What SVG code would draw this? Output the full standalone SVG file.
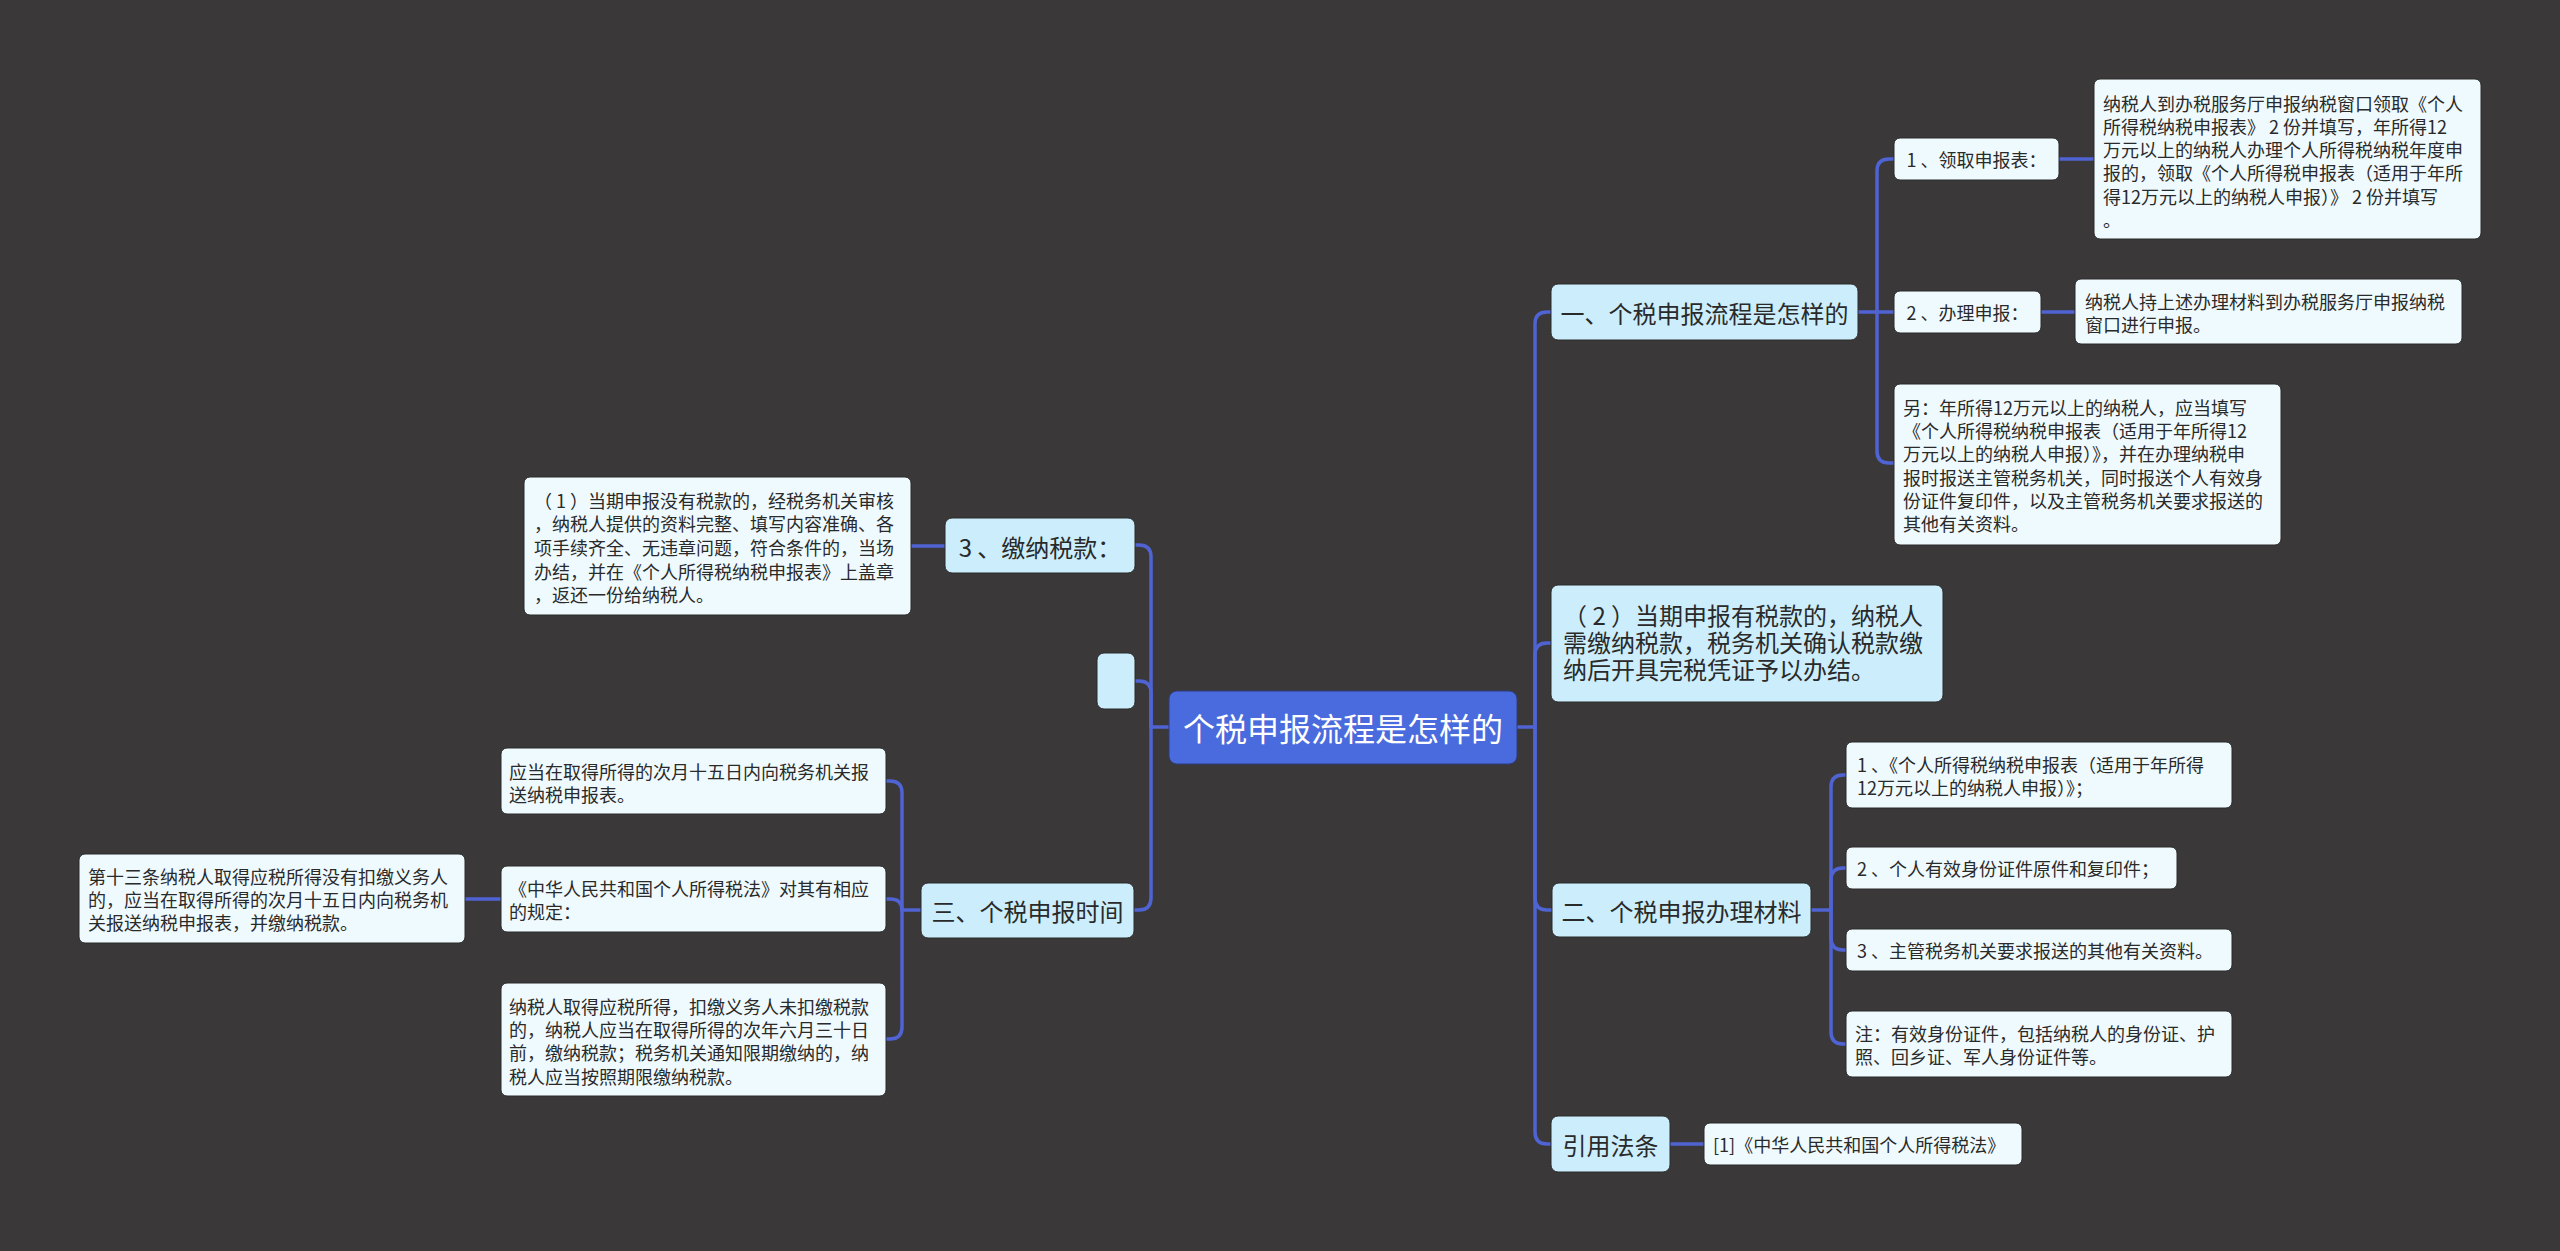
<svg xmlns="http://www.w3.org/2000/svg" width="2560" height="1251" viewBox="0 0 2560 1251">
<style>
text{font-family:"Noto Sans CJK SC","Noto Sans",sans-serif;fill:#2a2a2a;}
.c{fill:none;stroke:#4F63D2;stroke-width:3.5;stroke-linecap:round;}
.root{fill:#4A6BDD;stroke:#2f3d80;stroke-width:1;}
.l1{fill:#CCEEFC;stroke:#2a2a2a;stroke-width:1;}
.lf{fill:#EFFAFE;stroke:#2a2a2a;stroke-width:1;}
.t1{font-size:24px;}
.t2{font-size:18px;}
.mid{text-anchor:middle;}
</style>
<rect width="2560" height="1251" fill="#3A3839"/>
<g id="connectors">
<path class="c" d="M1517,727 H1535"/>
<path class="c" d="M1535,727 V324 Q1535,312 1547,312 H1551"/>
<path class="c" d="M1535,727 V655 Q1535,643 1547,643 H1551"/>
<path class="c" d="M1535,727 V898 Q1535,910 1547,910 H1552"/>
<path class="c" d="M1535,727 V1132 Q1535,1144 1547,1144 H1551"/>
<path class="c" d="M1169,727 H1151"/>
<path class="c" d="M1151,727 V557 Q1151,545 1139,545 H1135"/>
<path class="c" d="M1151,727 V693 Q1151,681 1139,681 H1135"/>
<path class="c" d="M1151,727 V898 Q1151,910 1139,910 H1134"/>
<path class="c" d="M1858,312 H1877"/>
<path class="c" d="M1877,312 V171 Q1877,159 1889,159 H1894"/>
<path class="c" d="M1877,312 H1894"/>
<path class="c" d="M1877,312 V451 Q1877,463 1889,463 H1894"/>
<path class="c" d="M2059,159 H2094"/>
<path class="c" d="M2041,312 H2075"/>
<path class="c" d="M1811,910 H1831"/>
<path class="c" d="M1831,910 V787 Q1831,775 1843,775 H1846"/>
<path class="c" d="M1831,910 V880 Q1831,868 1843,868 H1846"/>
<path class="c" d="M1831,910 V938 Q1831,950 1843,950 H1846"/>
<path class="c" d="M1831,910 V1032 Q1831,1044 1843,1044 H1846"/>
<path class="c" d="M1670,1144 H1704"/>
<path class="c" d="M945,546 H911"/>
<path class="c" d="M921,910 H902"/>
<path class="c" d="M902,910 V793 Q902,781 890,781 H886"/>
<path class="c" d="M902,910 Q902,899 890,899 H886"/>
<path class="c" d="M902,910 V1027 Q902,1039 890,1039 H886"/>
<path class="c" d="M501,899 H465"/>
</g>
<g id="root">
<rect class="root" x="1169" y="691" width="348" height="73" rx="8"/>
<text x="1343" y="727" class="mid" dominant-baseline="central" style="font-size:32px;fill:#ffffff">个税申报流程是怎样的</text>
</g>
<g id="n-yi">
<rect class="l1" x="1551" y="284" width="307" height="56" rx="7"/>
<text x="1704.5" y="312" class="t1 mid" dominant-baseline="central">一、个税申报流程是怎样的</text>
</g>
<g id="n-yi-1">
<rect class="lf" x="1894" y="138" width="165" height="42" rx="6"/>
<text x="1976.5" y="159" class="t2 mid" dominant-baseline="central">1 、领取申报表：</text>
</g>
<g id="n-yi-1-a">
<rect class="lf" x="2094" y="79" width="387" height="160" rx="6"/>
<text class="t2" dominant-baseline="central"><tspan x="2103" y="103">纳税人到办税服务厅申报纳税窗口领取《个人</tspan><tspan x="2103" y="126">所得税纳税申报表》 2 份并填写，年所得12</tspan><tspan x="2103" y="149">万元以上的纳税人办理个人所得税纳税年度申</tspan><tspan x="2103" y="172">报的，领取《个人所得税申报表（适用于年所</tspan><tspan x="2103" y="196">得12万元以上的纳税人申报）》 2 份并填写</tspan><tspan x="2103" y="219">。</tspan></text>
</g>
<g id="n-yi-2">
<rect class="lf" x="1894" y="291" width="147" height="42" rx="6"/>
<text x="1967.5" y="312" class="t2 mid" dominant-baseline="central">2 、办理申报：</text>
</g>
<g id="n-yi-2-a">
<rect class="lf" x="2075" y="279" width="387" height="65" rx="6"/>
<text class="t2" dominant-baseline="central"><tspan x="2085" y="301">纳税人持上述办理材料到办税服务厅申报纳税</tspan><tspan x="2085" y="324">窗口进行申报。</tspan></text>
</g>
<g id="n-yi-3">
<rect class="lf" x="1894" y="384" width="387" height="161" rx="6"/>
<text class="t2" dominant-baseline="central"><tspan x="1903" y="407">另：年所得12万元以上的纳税人，应当填写</tspan><tspan x="1903" y="430">《个人所得税纳税申报表（适用于年所得12</tspan><tspan x="1903" y="453">万元以上的纳税人申报）》，并在办理纳税申</tspan><tspan x="1903" y="477">报时报送主管税务机关，同时报送个人有效身</tspan><tspan x="1903" y="500">份证件复印件，以及主管税务机关要求报送的</tspan><tspan x="1903" y="523">其他有关资料。</tspan></text>
</g>
<g id="n-2">
<rect class="l1" x="1551" y="585" width="392" height="117" rx="7"/>
<text class="t1" dominant-baseline="central"><tspan x="1563" y="614">（ 2 ）当期申报有税款的，纳税人</tspan><tspan x="1563" y="641">需缴纳税款，税务机关确认税款缴</tspan><tspan x="1563" y="668">纳后开具完税凭证予以办结。</tspan></text>
</g>
<g id="n-er">
<rect class="l1" x="1552" y="883" width="259" height="54" rx="7"/>
<text x="1681.5" y="910" class="t1 mid" dominant-baseline="central">二、个税申报办理材料</text>
</g>
<g id="n-er-1">
<rect class="lf" x="1846" y="742" width="386" height="66" rx="6"/>
<text class="t2" dominant-baseline="central"><tspan x="1857" y="764">1 、《个人所得税纳税申报表（适用于年所得</tspan><tspan x="1857" y="787">12万元以上的纳税人申报）》；</tspan></text>
</g>
<g id="n-er-2">
<rect class="lf" x="1846" y="847" width="331" height="42" rx="6"/>
<text x="1857" y="868" class="t2" dominant-baseline="central">2 、个人有效身份证件原件和复印件；</text>
</g>
<g id="n-er-3">
<rect class="lf" x="1846" y="929" width="386" height="42" rx="6"/>
<text x="1857" y="950" class="t2" dominant-baseline="central">3 、主管税务机关要求报送的其他有关资料。</text>
</g>
<g id="n-er-4">
<rect class="lf" x="1846" y="1011" width="386" height="66" rx="6"/>
<text class="t2" dominant-baseline="central"><tspan x="1855" y="1033">注：有效身份证件，包括纳税人的身份证、护</tspan><tspan x="1855" y="1056">照、回乡证、军人身份证件等。</tspan></text>
</g>
<g id="n-law">
<rect class="l1" x="1551" y="1116" width="119" height="56" rx="7"/>
<text x="1610.5" y="1144" class="t1 mid" dominant-baseline="central">引用法条</text>
</g>
<g id="n-law-1">
<rect class="lf" x="1704" y="1123" width="318" height="42" rx="6"/>
<text x="1713" y="1144" class="t2" dominant-baseline="central">[1]《中华人民共和国个人所得税法》</text>
</g>
<g id="n-pay">
<rect class="l1" x="945" y="518" width="190" height="55" rx="7"/>
<text x="1040" y="546" class="t1 mid" dominant-baseline="central">3 、缴纳税款：</text>
</g>
<g id="n-pay-1">
<rect class="lf" x="524" y="477" width="387" height="138" rx="6"/>
<text class="t2" dominant-baseline="central"><tspan x="534" y="500">（ 1 ）当期申报没有税款的，经税务机关审核</tspan><tspan x="534" y="523">，纳税人提供的资料完整、填写内容准确、各</tspan><tspan x="534" y="547">项手续齐全、无违章问题，符合条件的，当场</tspan><tspan x="534" y="571">办结，并在《个人所得税纳税申报表》上盖章</tspan><tspan x="534" y="594">，返还一份给纳税人。</tspan></text>
</g>
<g id="n-empty">
<rect class="l1" x="1097" y="653" width="38" height="56" rx="7"/>
</g>
<g id="n-san">
<rect class="l1" x="921" y="883" width="213" height="55" rx="7"/>
<text x="1027.5" y="910" class="t1 mid" dominant-baseline="central">三、个税申报时间</text>
</g>
<g id="n-san-1">
<rect class="lf" x="501" y="748" width="385" height="66" rx="6"/>
<text class="t2" dominant-baseline="central"><tspan x="509" y="771">应当在取得所得的次月十五日内向税务机关报</tspan><tspan x="509" y="794">送纳税申报表。</tspan></text>
</g>
<g id="n-san-2">
<rect class="lf" x="501" y="866" width="385" height="66" rx="6"/>
<text class="t2" dominant-baseline="central"><tspan x="509" y="888">《中华人民共和国个人所得税法》对其有相应</tspan><tspan x="509" y="911">的规定：</tspan></text>
</g>
<g id="n-san-2-a">
<rect class="lf" x="79" y="854" width="386" height="89" rx="6"/>
<text class="t2" dominant-baseline="central"><tspan x="88" y="876">第十三条纳税人取得应税所得没有扣缴义务人</tspan><tspan x="88" y="899">的，应当在取得所得的次月十五日内向税务机</tspan><tspan x="88" y="922">关报送纳税申报表，并缴纳税款。</tspan></text>
</g>
<g id="n-san-3">
<rect class="lf" x="501" y="983" width="385" height="113" rx="6"/>
<text class="t2" dominant-baseline="central"><tspan x="509" y="1006">纳税人取得应税所得，扣缴义务人未扣缴税款</tspan><tspan x="509" y="1029">的，纳税人应当在取得所得的次年六月三十日</tspan><tspan x="509" y="1052">前，缴纳税款；税务机关通知限期缴纳的，纳</tspan><tspan x="509" y="1076">税人应当按照期限缴纳税款。</tspan></text>
</g>
</svg>
